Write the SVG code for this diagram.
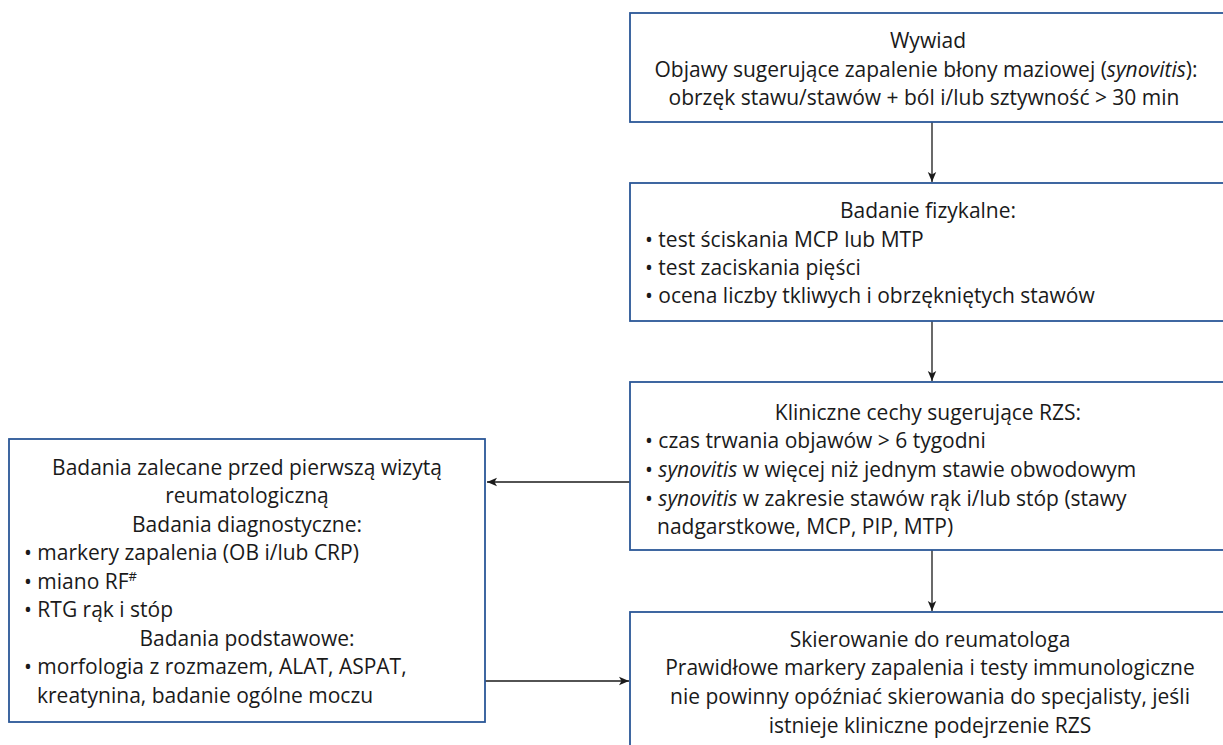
<svg xmlns="http://www.w3.org/2000/svg" width="1223" height="745" viewBox="0 0 1223 745">
<style>
.box{fill:#ffffff;stroke:#2b5797;stroke-width:1.8}
.t{font-family:"Open Sans","Noto Sans","Liberation Sans",sans-serif;font-size:21px;fill:#1a1a1a}
.c{text-anchor:middle}
.i{font-style:italic}
.ln{stroke:#1a1a1a;stroke-width:1.3;fill:none}
</style>
<defs>
<marker id="ah" viewBox="0 0 10 10" refX="10" refY="5" markerWidth="10" markerHeight="10" markerUnits="userSpaceOnUse" orient="auto">
<path d="M0,0.8 L10,5 L0,9.2 L2.5,5 Z" fill="#1a1a1a"/>
</marker>
</defs>
<rect width="1223" height="745" fill="#ffffff"/>

<g id="connectors">
<line class="ln" x1="932" y1="122" x2="932" y2="182" marker-end="url(#ah)"/>
<line class="ln" x1="932" y1="321" x2="932" y2="381" marker-end="url(#ah)"/>
<line class="ln" x1="932" y1="550" x2="932" y2="611" marker-end="url(#ah)"/>
<line class="ln" x1="630" y1="482" x2="487" y2="482" marker-end="url(#ah)"/>
<line class="ln" x1="485" y1="681" x2="629" y2="681" marker-end="url(#ah)"/>
</g>

<g id="wywiad">
<rect class="box" x="630" y="13" width="600" height="109"/>
<text class="t c" x="928" y="48">Wywiad</text>
<text class="t c" x="926" y="77">Objawy sugerujące zapalenie błony maziowej (<tspan class="i">synovitis</tspan>):</text>
<text class="t c" x="924" y="105">obrzęk stawu/stawów + ból i/lub sztywność &gt; 30 min</text>
</g>

<g id="badanie">
<rect class="box" x="630" y="183" width="600" height="138"/>
<text class="t c" x="928" y="218">Badanie fizykalne:</text>
<text class="t" x="645" y="247">• test ściskania MCP lub MTP</text>
<text class="t" x="645" y="275">• test zaciskania pięści</text>
<text class="t" x="645" y="303">• ocena liczby tkliwych i obrzękniętych stawów</text>
</g>

<g id="kliniczne">
<rect class="box" x="630" y="382" width="600" height="168"/>
<text class="t c" x="928" y="420">Kliniczne cechy sugerujące RZS:</text>
<text class="t" x="645" y="448">• czas trwania objawów &gt; 6 tygodni</text>
<text class="t" x="645" y="477">• <tspan class="i">synovitis</tspan> w więcej niż jednym stawie obwodowym</text>
<text class="t" x="645" y="506">• <tspan class="i">synovitis</tspan> w zakresie stawów rąk i/lub stóp (stawy</text>
<text class="t" x="657" y="534">nadgarstkowe, MCP, PIP, MTP)</text>
</g>

<g id="badania-zalecane">
<rect class="box" x="9" y="439" width="476" height="283"/>
<text class="t c" x="247" y="475">Badania zalecane przed pierwszą wizytą</text>
<text class="t c" x="247" y="503">reumatologiczną</text>
<text class="t c" x="247" y="532">Badania diagnostyczne:</text>
<text class="t" x="24" y="560">• markery zapalenia (OB i/lub CRP)</text>
<text class="t" x="24" y="589">• miano RF<tspan font-size="13" dy="-8">#</tspan></text>
<text class="t" x="24" y="617">• RTG rąk i stóp</text>
<text class="t c" x="247" y="646">Badania podstawowe:</text>
<text class="t" x="24" y="674">• morfologia z rozmazem, ALAT, ASPAT,</text>
<text class="t" x="37" y="703">kreatynina, badanie ogólne moczu</text>
</g>

<g id="skierowanie">
<rect class="box" x="630" y="612" width="600" height="150"/>
<text class="t c" x="930" y="647">Skierowanie do reumatologa</text>
<text class="t c" x="930" y="675">Prawidłowe markery zapalenia i testy immunologiczne</text>
<text class="t c" x="930" y="704">nie powinny opóźniać skierowania do specjalisty, jeśli</text>
<text class="t c" x="930" y="733">istnieje kliniczne podejrzenie RZS</text>
</g>
</svg>
